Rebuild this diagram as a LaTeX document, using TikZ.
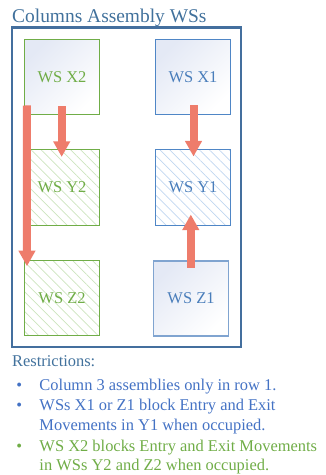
\documentclass[tikz,border=0pt]{standalone}
\usepackage{fontspec}
\setmainfont{Liberation Serif}
\usetikzlibrary{arrows.meta,patterns.meta,calc}
\definecolor{titleblue}{RGB}{65,113,156}
\definecolor{framecol}{RGB}{68,111,158}
\definecolor{listblue}{RGB}{68,114,196}
\definecolor{wsgreen}{RGB}{112,173,71}
\definecolor{wsblue}{RGB}{74,126,187}
\definecolor{wsblueborder}{RGB}{79,134,198}
\definecolor{wsbluelight}{RGB}{128,164,208}
\definecolor{gradtop}{RGB}{228,233,245}
\definecolor{hatchgreen}{RGB}{204,228,190}
\definecolor{hatchblue}{RGB}{192,214,240}
\definecolor{arrowcol}{RGB}{238,124,107}
\tikzset{
  txt/.style={inner sep=0pt, anchor=base west, font=\fontsize{16.5}{19}\selectfont},
  wsbox/.style={rectangle, minimum width=75bp, minimum height=75bp, inner sep=0pt,
                line width=1bp, font=\fontsize{16.5}{19}\selectfont},
  gradfill/.style={top color=gradtop, bottom color=white, shading angle=45},
  greenbox/.style={wsbox, draw=wsgreen, text=wsgreen},
  bluebox/.style={wsbox, draw=wsblueborder, text=wsblue},
  greenhatch/.style={pattern={Lines[angle=-45,distance=7bp,line width=0.7bp]}, pattern color=hatchgreen},
  bluehatch/.style={pattern={Lines[angle=-45,distance=7bp,line width=0.7bp]}, pattern color=hatchblue},
  bigarrow/.style={draw=arrowcol, line width=8bp,
                   -{Triangle[width=16bp,length=15.5bp]}, fill=arrowcol},
  bul/.style={inner sep=0pt, anchor=base, font=\fontsize{16.5}{19}\selectfont}
}
\begin{document}
\begin{tikzpicture}[x=1bp,y=-1bp]
\useasboundingbox (0,0) rectangle (325,475);
% title
\node[txt, text=titleblue, font=\fontsize{19.5}{22}\selectfont] (title) at (12,22.7) {Columns Assembly WSs};
% frame
\node[draw=framecol, line width=2.2bp, minimum width=229bp, minimum height=319.5bp, inner sep=0pt] (frame) at (126.5,187.25) {};
% boxes
\node[greenbox, gradfill] (x2) at (62,76.8) {WS X2};
\node[bluebox, gradfill] (x1) at (193,76.8) {WS X1};
\node[greenbox, greenhatch] (y2) at (62,187.5) {WS Y2};
\node[bluebox, bluehatch] (y1) at (193,187.5) {WS Y1};
\node[greenbox, greenhatch] (z2) at (62,298.2) {WS Z2};
\node[bluebox, gradfill, draw=wsbluelight, line width=1.3bp] (z1) at (191,298.5) {WS Z1};
% arrows
\draw[bigarrow] ($(x2.south west)+(2.8,-9.3)$) -- ($(z2.north west)+(3,6)$);
\draw[bigarrow] ($(x2.south)+(-0.3,-8.3)$) -- ($(y2.north)+(-0.3,7.3)$);
\draw[bigarrow] ($(x1.south)+(0.5,-9.3)$) -- ($(y1.north)+(0.5,7)$);
\draw[bigarrow] ($(z1.north)+(-0.2,7.6)$) -- ($(z1.north |- y1.south)+(-0.2,-11)$);
% restrictions
\node[txt, text=titleblue] (restr) at (12,366.7) {Restrictions:};
\node[bul, text=listblue] (b1) at (19.3,390) {•};
\node[txt, text=listblue] (l1) at (39.3,390) {Column 3 assemblies only in row 1.};
\node[bul, text=listblue] (b2) at (19.3,410.7) {•};
\node[txt, text=listblue] (l2) at (39.3,410.7) {WSs X1 or Z1 block Entry and Exit};
\node[txt, text=listblue] (l3) at (39.3,430.7) {Movements in Y1 when occupied.};
\node[bul, text=wsgreen] (b3) at (19.3,451) {•};
\node[txt, text=wsgreen] (l4) at (39.3,451) {WS X2 blocks Entry and Exit Movements};
\node[txt, text=wsgreen] (l5) at (39.3,470.5) {in WSs Y2 and Z2 when occupied.};
\end{tikzpicture}
\end{document}
